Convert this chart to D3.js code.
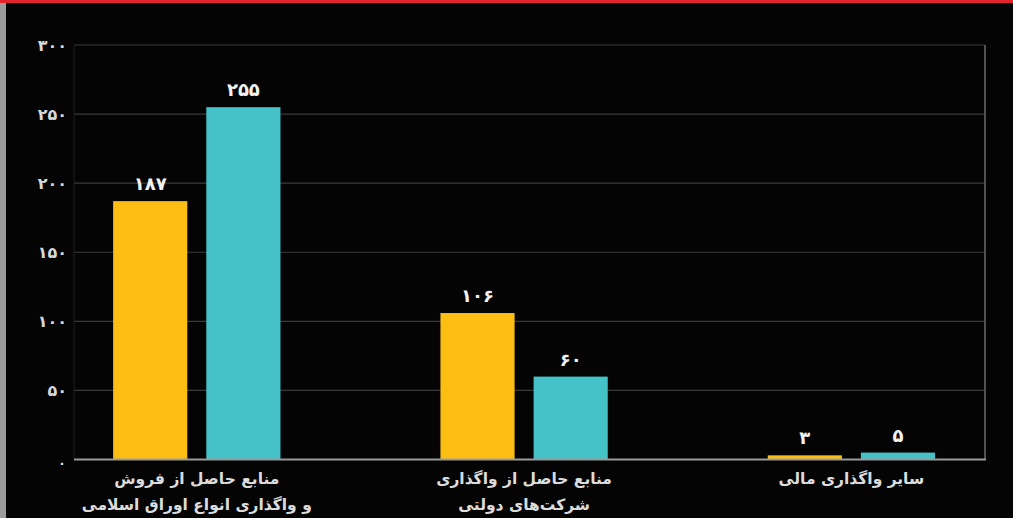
<!DOCTYPE html>
<html>
<head>
<meta charset="utf-8">
<script src="https://cdn.jsdelivr.net/npm/d3@7"></script>
<style>
  html, body { margin: 0; padding: 0; background: #040404; }
  svg { display: block; }
  text { font-family: "DejaVu Sans", sans-serif; }
</style>
</head>
<body>
<svg id="chart" width="1013" height="518"></svg>
<script>
// ---- data ----
const categories = [
  ["منابع حاصل از فروش", "و واگذاری انواع اوراق اسلامی"],
  ["منابع حاصل از واگذاری", "شرکت‌های دولتی"],
  ["سایر واگذاری مالی"]
];
const categoryKeys = ["c1", "c2", "c3"];
const seriesNames = ["seriesYellow", "seriesTeal"];
const seriesYellow = [187, 106, 3];
const seriesTeal = [255, 60, 5];
const yTicks = [0, 50, 100, 150, 200, 250, 300];

const colors = { seriesYellow: "#FDBE14", seriesTeal: "#45C2C7" };
const fa = n => String(n).replace(/\d/g, d => "۰۱۲۳۴۵۶۷۸۹"[d]);

const W = 1013, H = 518;
const mLeft = 74, mRight = 985, mTop = 45, mBottom = 459.5;

const svg = d3.select("#chart");
svg.append("rect").attr("width", W).attr("height", H).attr("fill", "#040404");
svg.append("rect").attr("x", 0).attr("y", 0).attr("width", 6).attr("height", H).attr("fill", "#9b9b9b");
svg.append("rect").attr("x", 0).attr("y", 0).attr("width", W).attr("height", 3).attr("fill", "#e4242b");

const y = d3.scaleLinear().domain([0, 300]).range([mBottom, mTop]);
const x0 = d3.scaleBand().domain(categoryKeys).range([mLeft, mRight])
  .paddingInner(0.4).paddingOuter(0.0917).align(0.41);
const x1 = d3.scaleBand().domain(seriesNames).range([0, x0.bandwidth()])
  .paddingInner(0.204).paddingOuter(0.156);

// grid
svg.append("g").selectAll("line").data(yTicks.filter(t => t > 0)).join("line")
  .attr("x1", mLeft).attr("x2", mRight)
  .attr("y1", d => y(d)).attr("y2", d => y(d))
  .attr("stroke", "#3a3a3a").attr("stroke-width", 1.2);
svg.append("line").attr("x1", mLeft).attr("x2", mLeft).attr("y1", mTop).attr("y2", mBottom)
  .attr("stroke", "#1e1e1e").attr("stroke-width", 1);
svg.append("line").attr("x1", mRight).attr("x2", mRight).attr("y1", mTop).attr("y2", mBottom)
  .attr("stroke", "#6a6a6a").attr("stroke-width", 1.5);

// y tick labels
svg.append("g").selectAll("text").data(yTicks).join("text")
  .attr("x", d => d === 0 ? 66 : 67)
  .attr("y", d => y(d) + (d === 0 ? 8 : 6))
  .attr("text-anchor", "end")
  .attr("fill", "#d8d8d8").attr("font-size", d => d === 0 ? 13 : 16).attr("font-weight", "bold")
  .text(d => fa(d));

// bars
const rows = categoryKeys.map((k, i) => ({ key: k, values: { seriesYellow: seriesYellow[i], seriesTeal: seriesTeal[i] } }));
const g = svg.append("g").selectAll("g").data(rows).join("g")
  .attr("transform", d => `translate(${x0(d.key)},0)`);
g.selectAll("rect").data(d => seriesNames.map(s => ({ s, v: d.values[s] }))).join("rect")
  .attr("x", d => x1(d.s)).attr("width", x1.bandwidth())
  .attr("y", d => y(d.v)).attr("height", d => mBottom - y(d.v))
  .attr("fill", d => colors[d.s]);
g.selectAll("text").data(d => seriesNames.map(s => ({ s, v: d.values[s] }))).join("text")
  .attr("x", d => x1(d.s) + x1.bandwidth() / 2)
  .attr("y", d => y(d.v) - 11)
  .attr("text-anchor", "middle")
  .attr("fill", "#f2f2f2").attr("font-size", 18).attr("font-weight", "bold")
  .text(d => fa(d.v));

// baseline
svg.append("line").attr("x1", mLeft).attr("x2", mRight + 1).attr("y1", mBottom).attr("y2", mBottom)
  .attr("stroke", "#9a9a9a").attr("stroke-width", 2);

// x labels
categoryKeys.forEach((k, i) => {
  const cx = x0(k) + x0.bandwidth() / 2;
  const t = svg.append("text").attr("text-anchor", "middle")
    .attr("fill", "#dcdcdc").attr("font-size", 15.5).attr("font-weight", "bold");
  categories[i].forEach((line, j) => {
    t.append("tspan").attr("x", cx).attr("y", 484 + j * 26).text(line);
  });
});
</script>
</body>
</html>
